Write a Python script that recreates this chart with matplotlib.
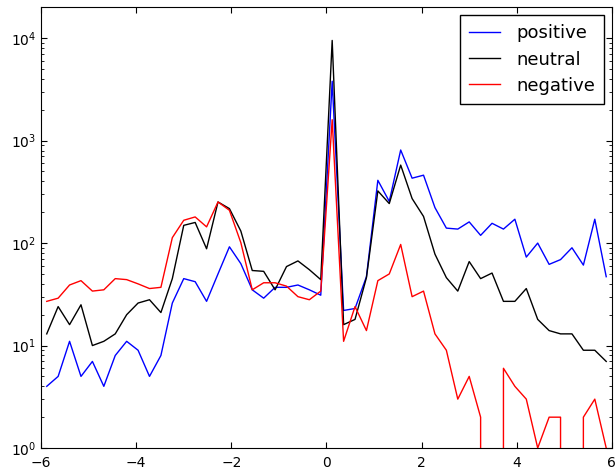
import numpy as np
import matplotlib
matplotlib.use("Agg")
import matplotlib.pyplot as plt

# histogram bins: 50 bins between -6 and 6
bin_edges = np.linspace(-6, 6, 51)
bin_centers = (bin_edges[:-1] + bin_edges[1:]) / 2

positive = [4, 5, 11, 5, 7, 4, 8, 11, 9, 5,
            8, 26, 45, 42, 27, 50, 92, 63, 35, 29,
            37, 37, 39, 35, 31, 3800, 22, 23, 47, 410,
            255, 810, 430, 460, 222, 140, 137, 161, 119, 156,
            137, 171, 73, 100, 62, 69, 90, 61, 171, 47]
neutral = [13, 24, 16, 25, 10, 11, 13, 20, 26, 28,
           21, 45, 149, 159, 88, 252, 217, 131, 54, 53,
           35, 59, 67, 55, 44, 9500, 16, 18, 46, 323,
           243, 577, 272, 182, 78, 46, 34, 66, 45, 51,
           27, 27, 36, 18, 14, 13, 13, 9, 9, 7]
negative = [27, 29, 39, 43, 34, 35, 45, 44, 40, 36,
            37, 113, 167, 180, 144, 252, 209, 101, 35, 41,
            41, 38, 30, 28, 34, 1600, 11, 24, 14, 43,
            50, 97, 30, 34, 13, 9, 3, 5, 2, 0,
            6, 4, 3, 1, 2, 2, 0, 2, 3, 1]

fig = plt.figure(figsize=(6.15, 4.75), dpi=100)
ax = fig.add_axes([0.0667, 0.0568, 0.9283, 0.9278])

ax.plot(bin_centers, positive, color='b', lw=1.0, label='positive')
ax.plot(bin_centers, neutral, color='k', lw=1.0, label='neutral')
ax.plot(bin_centers, negative, color='r', lw=1.0, label='negative')

ax.set_yscale('log')
ax.set_xlim(-6, 6)
ax.set_ylim(1, 2e4)
ax.set_xticks([-6, -4, -2, 0, 2, 4, 6])

ax.tick_params(which='both', direction='in', top=True, right=True, labelsize=10)
ax.tick_params(which='major', length=4)
ax.tick_params(which='minor', length=2)
ax.tick_params(axis='x', pad=5.5)

leg = ax.legend(loc='upper right', fontsize=13, fancybox=False, framealpha=1,
                borderpad=0.5, handlelength=1.7, handletextpad=0.9,
                labelspacing=0.45, borderaxespad=0.45)
leg.get_frame().set_edgecolor('black')

fig.savefig("out.png", dpi=100)
